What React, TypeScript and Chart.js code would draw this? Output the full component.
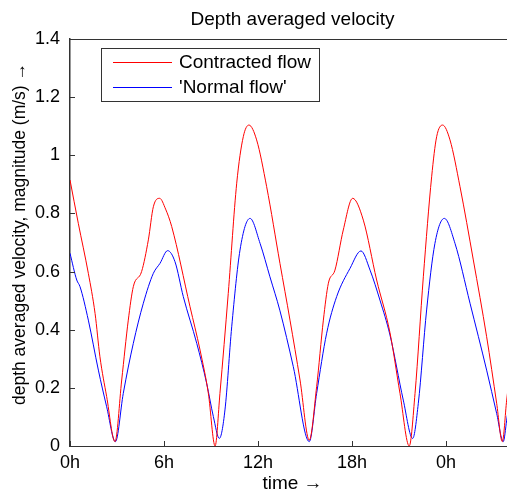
import React, { useEffect, useRef } from 'react';
import { Chart, registerables } from 'chart.js';

Chart.register(...registerables);

const TITLE = 'Depth averaged velocity';
const X_TITLE = 'time →';
const Y_TITLE = 'depth averaged velocity, magnitude (m/s) →';
const SERIES_LABELS = ['Contracted flow', "'Normal flow'"];
const SERIES_COLORS = ['#ff0000', '#0000ff'];
const X_TICKS = [0, 6, 12, 18, 24];
const Y_TICKS = [0, 0.2, 0.4, 0.6, 0.8, 1, 1.2, 1.4];
const X_MAX = 28.4;

// hours since start
const contractedHours = [0, 0.53, 1.17, 1.6, 1.91, 2.34, 2.87, 3.3, 3.72, 4.04, 4.57, 5.0, 5.32, 5.72, 6.1, 6.49, 7.66, 8.3, 8.83, 9.26, 9.57, 10.1, 10.64, 11.06, 11.42, 11.91, 12.55, 13.4, 14.04, 14.68, 15.27, 15.74, 16.17, 16.49, 16.91, 17.44, 18.04, 18.72, 19.57, 20.42, 21.06, 21.65, 22.02, 22.55, 23.08, 23.4, 23.78, 24.25, 24.89, 25.74, 26.59, 27.23, 27.59, 27.87, 28.4];
const contractedVelocity = [0.915, 0.766, 0.594, 0.456, 0.307, 0.17, 0.015, 0.227, 0.433, 0.548, 0.6, 0.709, 0.823, 0.852, 0.815, 0.755, 0.479, 0.33, 0.181, 0.0, 0.181, 0.525, 0.904, 1.064, 1.104, 1.053, 0.892, 0.628, 0.433, 0.227, 0.02, 0.204, 0.433, 0.56, 0.605, 0.743, 0.852, 0.777, 0.571, 0.39, 0.181, 0.0, 0.181, 0.582, 0.926, 1.064, 1.104, 1.053, 0.892, 0.64, 0.376, 0.147, 0.015, 0.158, 0.4];

const normalHours = [0, 0.43, 0.64, 1.17, 1.81, 2.34, 2.9, 3.4, 4.04, 4.68, 5.32, 5.74, 6.23, 6.7, 7.23, 8.09, 8.72, 9.15, 9.53, 9.89, 10.32, 10.85, 11.49, 12.13, 12.76, 13.4, 14.25, 15.27, 15.74, 16.38, 17.02, 17.87, 18.57, 19.15, 19.78, 20.42, 21.27, 21.87, 22.23, 22.76, 23.29, 23.89, 24.57, 25.53, 26.59, 27.23, 27.65, 27.87, 28.4];
const normalVelocity = [0.663, 0.571, 0.548, 0.433, 0.261, 0.135, 0.015, 0.181, 0.353, 0.491, 0.594, 0.628, 0.672, 0.634, 0.514, 0.353, 0.216, 0.101, 0.026, 0.124, 0.41, 0.674, 0.783, 0.697, 0.582, 0.465, 0.273, 0.015, 0.181, 0.388, 0.514, 0.611, 0.671, 0.605, 0.502, 0.382, 0.158, 0.026, 0.147, 0.468, 0.697, 0.783, 0.697, 0.491, 0.261, 0.112, 0.015, 0.089, 0.3];

const FONT = "'Liberation Sans', Arial, sans-serif";
const AXIS_COLOR = '#333333';

const toPoints = (xs: number[], ys: number[]) => xs.map((x, i) => ({ x, y: ys[i] }));

const decorPlugin = {
  id: 'decor',
  afterDraw(chart: any) {
    const { ctx, chartArea } = chart;
    const xs = chart.scales.x;
    const ys = chart.scales.y;
    ctx.save();
    // top border
    ctx.strokeStyle = AXIS_COLOR;
    ctx.lineWidth = 1;
    ctx.beginPath();
    ctx.moveTo(chartArea.left, chartArea.top + 0.5);
    ctx.lineTo(chartArea.right, chartArea.top + 0.5);
    ctx.stroke();
    // inward ticks
    ctx.beginPath();
    X_TICKS.forEach((v) => {
      const px = Math.round(xs.getPixelForValue(v)) + 0.5;
      ctx.moveTo(px, chartArea.bottom);
      ctx.lineTo(px, chartArea.bottom - 5);
    });
    Y_TICKS.forEach((v) => {
      const py = Math.round(ys.getPixelForValue(v)) + 0.5;
      ctx.moveTo(chartArea.left, py);
      ctx.lineTo(chartArea.left + 5, py);
    });
    ctx.stroke();
    // title
    ctx.fillStyle = '#000';
    ctx.font = `19px ${FONT}`;
    ctx.textAlign = 'center';
    ctx.textBaseline = 'middle';
    ctx.fillText(TITLE, (chartArea.left + chartArea.right) / 2, 20);
    // y-axis title
    ctx.save();
    ctx.translate(20, 234);
    ctx.rotate(-Math.PI / 2);
    ctx.font = `17.5px ${FONT}`;
    ctx.fillText(Y_TITLE, 0, 0);
    ctx.restore();
    // legend
    const bx = 101, by = 48, bw = 218, bh = 53;
    ctx.fillStyle = '#fff';
    ctx.fillRect(bx, by, bw, bh);
    ctx.strokeStyle = AXIS_COLOR;
    ctx.strokeRect(bx + 0.5, by + 0.5, bw, bh);
    ctx.font = `19px ${FONT}`;
    chart.data.datasets.forEach((ds: any, i: number) => {
      const ly = by + 14 + i * 25;
      ctx.strokeStyle = ds.borderColor;
      ctx.lineWidth = 1;
      ctx.beginPath();
      ctx.moveTo(113, ly + 0.5);
      ctx.lineTo(172, ly + 0.5);
      ctx.stroke();
      ctx.fillStyle = '#000';
      ctx.textAlign = 'left';
      ctx.fillText(ds.label, 179, ly + 1);
    });
    ctx.restore();
  },
};

export default function App() {
  const ref = useRef<HTMLCanvasElement | null>(null);
  useEffect(() => {
    if (!ref.current) return;
    Chart.defaults.font.family = FONT;
    const chart = new Chart(ref.current, {
      type: 'line',
      data: {
        datasets: [
          {
            label: SERIES_LABELS[0],
            data: toPoints(contractedHours, contractedVelocity),
            borderColor: SERIES_COLORS[0],
            borderWidth: 1,
            pointRadius: 0,
            cubicInterpolationMode: 'monotone',
            fill: false,
          },
          {
            label: SERIES_LABELS[1],
            data: toPoints(normalHours, normalVelocity),
            borderColor: SERIES_COLORS[1],
            borderWidth: 1,
            pointRadius: 0,
            cubicInterpolationMode: 'monotone',
            fill: false,
          },
        ],
      },
      options: {
        animation: false,
        responsive: false,
        maintainAspectRatio: false,
        events: [],
        layout: { padding: { top: 39, left: 0, right: 5, bottom: 0 } },
        plugins: { legend: { display: false }, title: { display: false }, tooltip: { enabled: false } },
        scales: {
          x: {
            type: 'linear',
            min: 0,
            max: X_MAX,
            afterFit: (s: any) => { s.height = 47; },
            afterBuildTicks: (s: any) => { s.ticks = X_TICKS.map((v) => ({ value: v })); },
            ticks: {
              color: '#000',
              font: { size: 18 },
              padding: 6,
              maxRotation: 0,
              autoSkip: false,
              callback: (v: any) => `${Number(v) % 24}h`,
            },
            grid: { display: true, drawOnChartArea: false, drawTicks: false },
            border: { color: AXIS_COLOR, width: 1 },
            title: { display: true, text: X_TITLE, color: '#000', font: { size: 19, lineHeight: 1 }, padding: 0 },
          },
          y: {
            min: 0,
            max: 1.4,
            afterFit: (s: any) => { s.width = 70; },
            afterBuildTicks: (s: any) => { s.ticks = Y_TICKS.map((v) => ({ value: v })); },
            ticks: {
              color: '#000',
              font: { size: 18 },
              padding: 10,
              callback: (v: any) => String(Number(Number(v).toFixed(1))),
            },
            grid: { display: true, drawOnChartArea: false, drawTicks: false },
            border: { color: AXIS_COLOR, width: 1.5 },
            title: { display: false },
          },
        },
      },
      plugins: [decorPlugin],
    } as any);
    return () => chart.destroy();
  }, []);
  return (
    <div style={{ position: 'fixed', left: 0, top: 0, width: 507, height: 493, overflow: 'hidden', background: '#fff' }}>
      <canvas ref={ref} width={520} height={493} style={{ width: 520, height: 493, display: 'block' }} />
    </div>
  );
}
